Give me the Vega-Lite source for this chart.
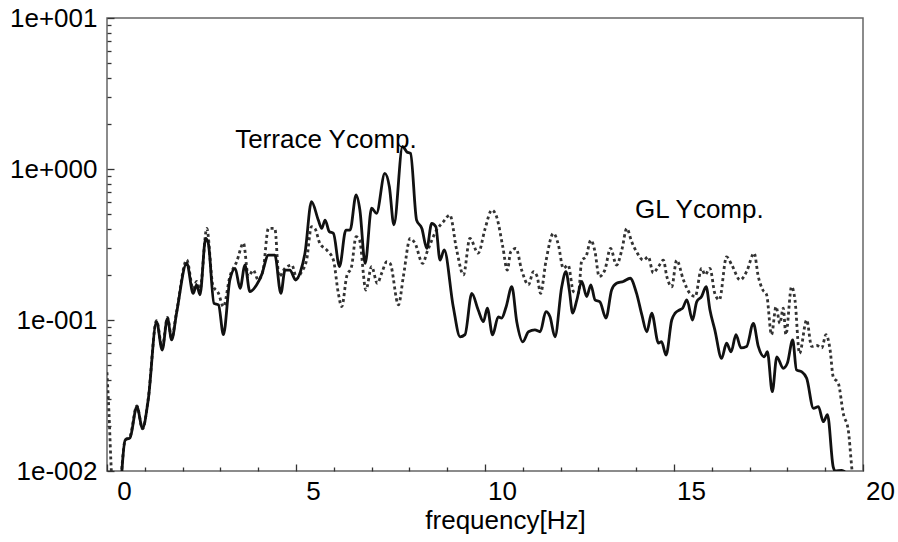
{
  "$schema": "https://vega.github.io/schema/vega-lite/v6.json",
  "width": 756,
  "height": 453,
  "autosize": {"type": "none"},
  "padding": {"left": 107, "top": 18, "right": 35, "bottom": 71},
  "background": "white",
  "config": {
    "view": {"stroke": "#666", "strokeWidth": 1.5},
    "font": "Liberation Sans",
    "axis": {"grid": false, "ticks": true, "zindex": 1, "domain": false, "tickColor": "#333", "tickWidth": 1.3, "labelColor": "black", "labelFont": "Liberation Sans", "titleFont": "Liberation Sans", "labelFlush": false, "labelOverlap": false}
  },
  "datasets": {
    "terrace": [
      {"f":0.37,"v":0.008},{"f":0.40,"v":0.0105},{"f":0.48,"v":0.016},{"f":0.61,"v":0.0166},{"f":0.79,"v":0.0267},{"f":0.94,"v":0.0192},{"f":1.09,"v":0.0295},{"f":1.31,"v":0.0975},{"f":1.46,"v":0.0633},{"f":1.60,"v":0.1026},{"f":1.71,"v":0.0738},{"f":1.84,"v":0.111},{"f":2.11,"v":0.238},{"f":2.28,"v":0.150},{"f":2.37,"v":0.171},{"f":2.46,"v":0.147},{"f":2.61,"v":0.347},{"f":2.68,"v":0.322},{"f":2.83,"v":0.129},{"f":2.95,"v":0.126},{"f":3.08,"v":0.080},{"f":3.25,"v":0.184},{"f":3.39,"v":0.220},{"f":3.52,"v":0.162},{"f":3.65,"v":0.231},{"f":3.78,"v":0.154},{"f":3.96,"v":0.171},{"f":4.09,"v":0.199},{"f":4.27,"v":0.269},{"f":4.44,"v":0.269},{"f":4.60,"v":0.150},{"f":4.71,"v":0.214},{"f":4.84,"v":0.214},{"f":4.99,"v":0.184},{"f":5.12,"v":0.21},{"f":5.24,"v":0.28},{"f":5.41,"v":0.608},{"f":5.59,"v":0.459},{"f":5.68,"v":0.404},{"f":5.77,"v":0.459},{"f":5.88,"v":0.385},{"f":5.99,"v":0.375},{"f":6.15,"v":0.226},{"f":6.32,"v":0.394},{"f":6.43,"v":0.394},{"f":6.59,"v":0.673},{"f":6.69,"v":0.535},{"f":6.83,"v":0.237},{"f":7.00,"v":0.550},{"f":7.13,"v":0.509},{"f":7.35,"v":0.935},{"f":7.47,"v":0.763},{"f":7.59,"v":0.426},{"f":7.82,"v":1.41},{"f":7.93,"v":1.30},{"f":8.03,"v":1.27},{"f":8.19,"v":0.459},{"f":8.33,"v":0.404},{"f":8.46,"v":0.298},{"f":8.59,"v":0.436},{"f":8.70,"v":0.415},{"f":8.81,"v":0.249},{"f":8.92,"v":0.291},{"f":9.16,"v":0.1225},{"f":9.34,"v":0.0774},{"f":9.47,"v":0.080},{"f":9.65,"v":0.150},{"f":9.82,"v":0.1165},{"f":9.96,"v":0.0975},{"f":10.06,"v":0.12},{"f":10.20,"v":0.0796},{"f":10.35,"v":0.105},{"f":10.44,"v":0.103},{"f":10.56,"v":0.1225},{"f":10.71,"v":0.166},{"f":10.84,"v":0.0975},{"f":11.00,"v":0.0718},{"f":11.15,"v":0.0836},{"f":11.32,"v":0.086},{"f":11.46,"v":0.0836},{"f":11.61,"v":0.1135},{"f":11.72,"v":0.105},{"f":11.85,"v":0.0774},{"f":12.03,"v":0.166},{"f":12.14,"v":0.209},{"f":12.23,"v":0.158},{"f":12.32,"v":0.111},{"f":12.43,"v":0.136},{"f":12.56,"v":0.180},{"f":12.69,"v":0.143},{"f":12.80,"v":0.171},{"f":12.91,"v":0.136},{"f":13.04,"v":0.132},{"f":13.20,"v":0.103},{"f":13.35,"v":0.158},{"f":13.48,"v":0.175},{"f":13.66,"v":0.180},{"f":13.84,"v":0.189},{"f":14.01,"v":0.150},{"f":14.15,"v":0.108},{"f":14.28,"v":0.0836},{"f":14.41,"v":0.111},{"f":14.59,"v":0.0702},{"f":14.67,"v":0.0718},{"f":14.79,"v":0.0586},{"f":14.94,"v":0.1},{"f":15.03,"v":0.111},{"f":15.16,"v":0.117},{"f":15.23,"v":0.12},{"f":15.34,"v":0.136},{"f":15.49,"v":0.1},{"f":15.60,"v":0.132},{"f":15.73,"v":0.143},{"f":15.85,"v":0.166},{"f":15.95,"v":0.117},{"f":16.08,"v":0.086},{"f":16.26,"v":0.0557},{"f":16.39,"v":0.0702},{"f":16.51,"v":0.0616},{"f":16.64,"v":0.080},{"f":16.77,"v":0.0654},{"f":16.92,"v":0.0668},{"f":17.10,"v":0.095},{"f":17.23,"v":0.0668},{"f":17.39,"v":0.057},{"f":17.47,"v":0.0616},{"f":17.60,"v":0.0335},{"f":17.72,"v":0.057},{"f":17.89,"v":0.0479},{"f":18.00,"v":0.0519},{"f":18.14,"v":0.0738},{"f":18.24,"v":0.0467},{"f":18.38,"v":0.0454},{"f":18.51,"v":0.0411},{"f":18.69,"v":0.026},{"f":18.82,"v":0.0267},{"f":18.95,"v":0.0212},{"f":19.06,"v":0.0236},{"f":19.21,"v":0.0107},{"f":19.26,"v":0.0100},{"f":19.44,"v":0.0101},{"f":19.52,"v":0.0099}
    ],
    "gl": [
      {"f":0.00,"v":0.045},{"f":0.05,"v":0.025},{"f":0.12,"v":0.0095},{"f":0.14,"v":0.008},{"f":0.36,"v":0.008},{"f":0.40,"v":0.011},{"f":0.48,"v":0.016},{"f":0.61,"v":0.017},{"f":0.79,"v":0.027},{"f":0.94,"v":0.019},{"f":1.09,"v":0.03},{"f":1.31,"v":0.099},{"f":1.46,"v":0.066},{"f":1.60,"v":0.104},{"f":1.71,"v":0.076},{"f":1.84,"v":0.113},{"f":2.11,"v":0.25},{"f":2.28,"v":0.16},{"f":2.37,"v":0.18},{"f":2.46,"v":0.16},{"f":2.64,"v":0.404},{"f":2.80,"v":0.17},{"f":2.95,"v":0.150},{"f":3.08,"v":0.1225},{"f":3.25,"v":0.194},{"f":3.43,"v":0.243},{"f":3.61,"v":0.322},{"f":3.74,"v":0.194},{"f":3.87,"v":0.214},{"f":4.00,"v":0.184},{"f":4.13,"v":0.214},{"f":4.27,"v":0.404},{"f":4.44,"v":0.404},{"f":4.55,"v":0.194},{"f":4.71,"v":0.220},{"f":4.89,"v":0.231},{"f":5.02,"v":0.189},{"f":5.15,"v":0.209},{"f":5.28,"v":0.249},{"f":5.41,"v":0.415},{"f":5.50,"v":0.404},{"f":5.63,"v":0.322},{"f":5.81,"v":0.291},{"f":5.99,"v":0.249},{"f":6.12,"v":0.150},{"f":6.21,"v":0.1225},{"f":6.34,"v":0.194},{"f":6.47,"v":0.226},{"f":6.59,"v":0.356},{"f":6.68,"v":0.338},{"f":6.85,"v":0.158},{"f":7.00,"v":0.226},{"f":7.15,"v":0.175},{"f":7.27,"v":0.205},{"f":7.40,"v":0.243},{"f":7.49,"v":0.237},{"f":7.71,"v":0.126},{"f":7.84,"v":0.194},{"f":8.02,"v":0.347},{"f":8.15,"v":0.322},{"f":8.35,"v":0.237},{"f":8.47,"v":0.283},{"f":8.72,"v":0.394},{"f":8.90,"v":0.448},{"f":9.07,"v":0.496},{"f":9.25,"v":0.291},{"f":9.43,"v":0.199},{"f":9.60,"v":0.347},{"f":9.82,"v":0.277},{"f":10.00,"v":0.40},{"f":10.18,"v":0.535},{"f":10.31,"v":0.48},{"f":10.47,"v":0.306},{"f":10.59,"v":0.214},{"f":10.68,"v":0.283},{"f":10.82,"v":0.298},{"f":10.97,"v":0.214},{"f":11.15,"v":0.171},{"f":11.28,"v":0.209},{"f":11.38,"v":0.194},{"f":11.47,"v":0.150},{"f":11.61,"v":0.243},{"f":11.81,"v":0.375},{"f":11.94,"v":0.316},{"f":12.07,"v":0.220},{"f":12.20,"v":0.231},{"f":12.34,"v":0.154},{"f":12.47,"v":0.150},{"f":12.56,"v":0.249},{"f":12.67,"v":0.262},{"f":12.80,"v":0.338},{"f":12.91,"v":0.283},{"f":13.02,"v":0.194},{"f":13.17,"v":0.214},{"f":13.32,"v":0.298},{"f":13.48,"v":0.231},{"f":13.62,"v":0.291},{"f":13.75,"v":0.404},{"f":13.88,"v":0.33},{"f":14.01,"v":0.283},{"f":14.19,"v":0.249},{"f":14.32,"v":0.262},{"f":14.45,"v":0.205},{"f":14.59,"v":0.226},{"f":14.72,"v":0.249},{"f":14.81,"v":0.194},{"f":14.94,"v":0.166},{"f":15.07,"v":0.249},{"f":15.25,"v":0.184},{"f":15.42,"v":0.150},{"f":15.56,"v":0.143},{"f":15.73,"v":0.220},{"f":15.82,"v":0.199},{"f":15.95,"v":0.220},{"f":16.08,"v":0.150},{"f":16.20,"v":0.136},{"f":16.39,"v":0.262},{"f":16.53,"v":0.231},{"f":16.75,"v":0.184},{"f":16.92,"v":0.209},{"f":17.12,"v":0.277},{"f":17.23,"v":0.194},{"f":17.35,"v":0.158},{"f":17.45,"v":0.147},{"f":17.58,"v":0.080},{"f":17.70,"v":0.1225},{"f":17.80,"v":0.095},{"f":17.89,"v":0.12},{"f":17.96,"v":0.080},{"f":18.11,"v":0.166},{"f":18.20,"v":0.136},{"f":18.32,"v":0.0601},{"f":18.51,"v":0.1},{"f":18.64,"v":0.0668},{"f":18.77,"v":0.068},{"f":18.91,"v":0.0654},{"f":19.02,"v":0.080},{"f":19.13,"v":0.0633},{"f":19.21,"v":0.0422},{"f":19.35,"v":0.0379},{"f":19.48,"v":0.0239},{"f":19.61,"v":0.0187},{"f":19.70,"v":0.0107},{"f":19.72,"v":0.0095}
    ],
    "labels": [
      {"f":3.39,"v":1.38,"t":"Terrace Ycomp."},
      {"f":13.97,"v":0.473,"t":"GL Ycomp."}
    ]
  },
  "resolve": {"axis": {"x": "independent", "y": "independent"}},
  "layer": [
    {
      "data": {"name": "terrace"},
      "mark": {"type": "point", "opacity": 0},
      "encoding": {
        "x": {"field": "f", "type": "quantitative", "scale": {"domain": [0, 20], "nice": false, "zero": false},
          "axis": {"orient": "bottom", "offset": -4, "values": [1,2,3,4,6,7,8,9,11,12,13,14,16,17,18,19], "tickSize": 4, "labels": false, "title": null}},
        "y": {"field": "v", "type": "quantitative", "scale": {"type": "log", "domain": [0.01, 10], "nice": false},
          "axis": {"orient": "left", "offset": -4, "values": [0.02,0.03,0.04,0.05,0.06,0.07,0.08,0.09,0.2,0.3,0.4,0.5,0.6,0.7,0.8,0.9,2,3,4,5,6,7,8,9], "tickSize": 4, "labels": false, "title": null}}
      }
    },
    {
      "data": {"name": "gl"},
      "mark": {"type": "line", "clip": true, "color": "#333", "strokeWidth": 2.8, "strokeDash": [3, 3], "interpolate": "monotone"},
      "encoding": {
        "x": {"field": "f", "type": "quantitative",
          "axis": {"orient": "bottom", "offset": -7, "values": [0,5,10,15,20], "tickSize": 7, "labelFontSize": 26, "labelOffset": 17, "labelPadding": 7, "title": "frequency[Hz]", "titleFontSize": 26, "titleFontWeight": "normal", "titleX": 398, "titleY": 64, "titleBaseline": "alphabetic", "titleColor": "black"}},
        "y": {"field": "v", "type": "quantitative",
          "axis": {"orient": "left", "offset": -7, "values": [0.01,0.1,1,10], "tickSize": 7, "labelFontSize": 26, "labelPadding": 10, "title": null,
            "labelExpr": "datum.value >= 5 ? '1e+001' : datum.value >= 0.5 ? '1e+000' : datum.value >= 0.05 ? '1e-001' : '1e-002'"}}
      }
    },
    {
      "data": {"name": "terrace"},
      "mark": {"type": "line", "clip": true, "color": "#111", "strokeWidth": 2.8, "interpolate": "monotone"},
      "encoding": {
        "x": {"field": "f", "type": "quantitative", "axis": null},
        "y": {"field": "v", "type": "quantitative", "axis": null}
      }
    },
    {
      "data": {"name": "labels"},
      "mark": {"type": "text", "align": "left", "baseline": "alphabetic", "fontSize": 26, "font": "Liberation Sans", "color": "black"},
      "encoding": {
        "x": {"field": "f", "type": "quantitative", "axis": null},
        "y": {"field": "v", "type": "quantitative", "axis": null},
        "text": {"field": "t"}
      }
    }
  ]
}
